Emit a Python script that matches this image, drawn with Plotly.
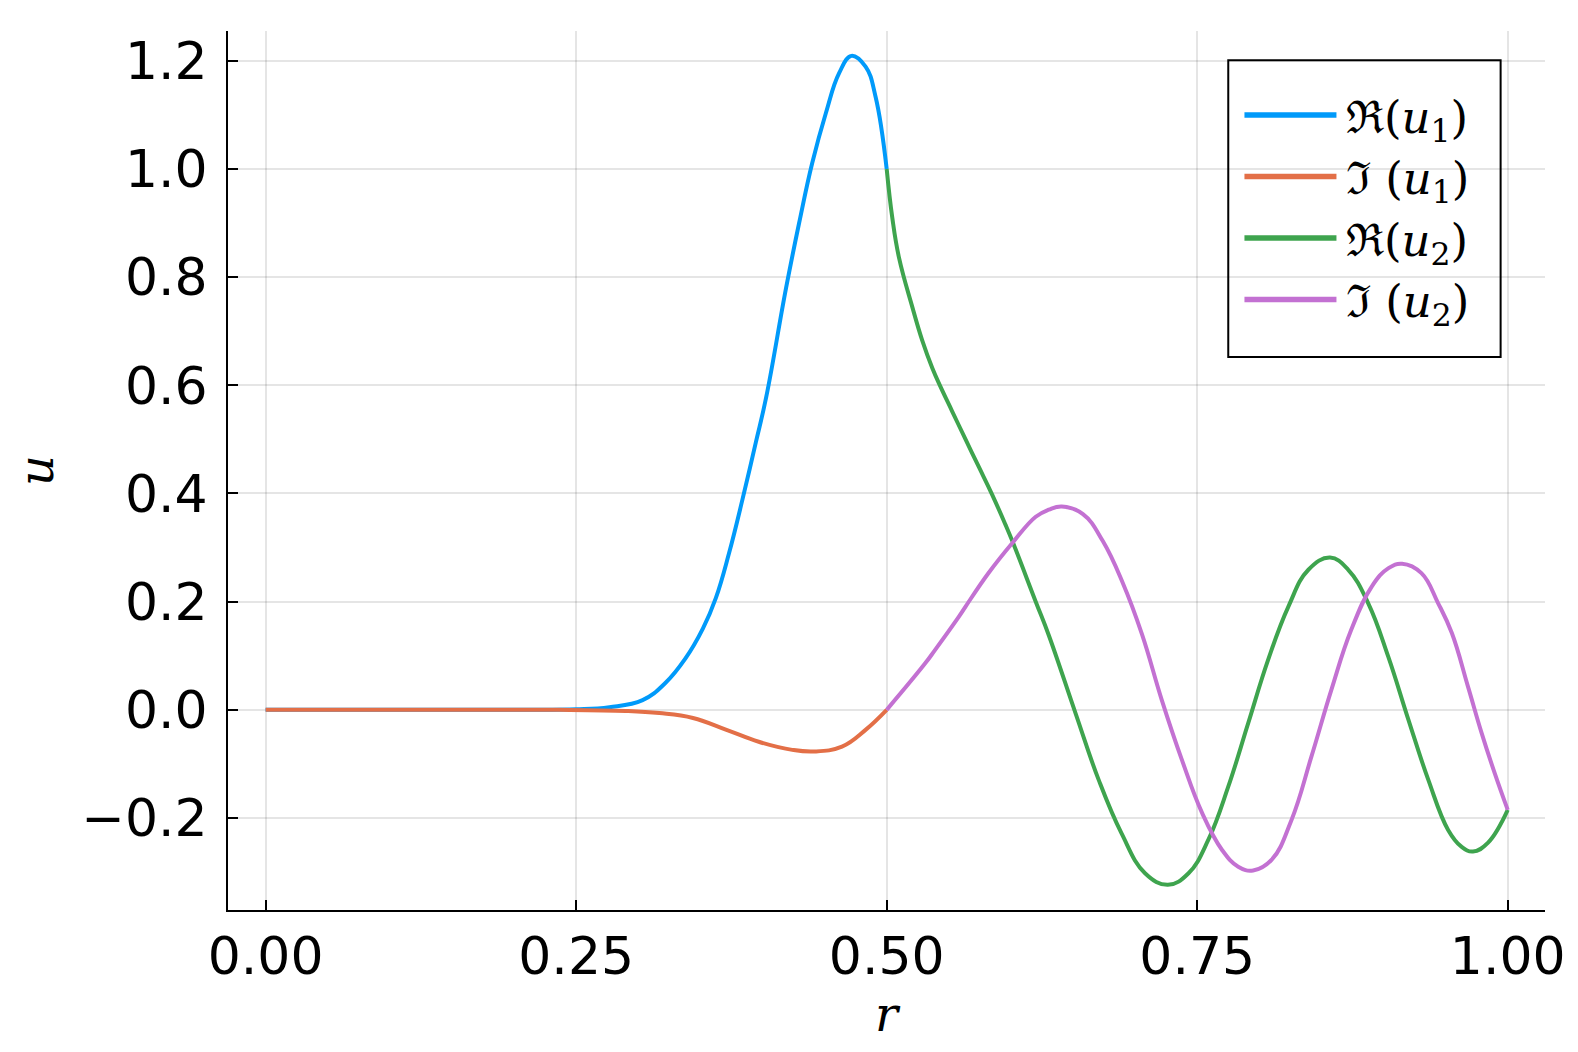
import plotly.graph_objects as go

# Re(u1) and Im(u1) on the inner part, 0 <= r <= 0.5
r_re1 = [0.0, 0.05, 0.1, 0.15, 0.2, 0.25, 0.2768, 0.3035, 0.322, 0.338, 0.352, 0.3625,
         0.373, 0.384, 0.3947, 0.403, 0.419, 0.4295, 0.44, 0.451, 0.4617, 0.4716,
         0.483, 0.491, 0.5]
re_u1 = [0.0, 0.0, 0.0, 0.0, 0.0002, 0.001, 0.005, 0.018, 0.05, 0.095, 0.15, 0.207,
         0.289, 0.39, 0.495, 0.578, 0.78, 0.9, 1.0105, 1.103, 1.177, 1.209,
         1.189, 1.134, 1.0]

r_im1 = [0.0, 0.1, 0.2, 0.236, 0.29, 0.317, 0.344, 0.371, 0.397, 0.424, 0.4416, 0.464,
         0.483, 0.5]
im_u1 = [0.0, 0.0, 0.0, 0.0, -0.002, -0.006, -0.015, -0.037, -0.059, -0.074, -0.077,
         -0.068, -0.037, 0.0]

# Re(u2) and Im(u2) on the outer part, 0.5 <= r <= 1
r_re2 = [0.5, 0.5045, 0.51, 0.5206, 0.5286, 0.5367, 0.5434, 0.5527, 0.5635, 0.5742,
         0.5849, 0.5957, 0.601, 0.62, 0.6305, 0.652, 0.6706, 0.689, 0.708, 0.7264, 0.743,
         0.759, 0.775, 0.791, 0.807, 0.8234, 0.8395, 0.857, 0.8716, 0.8877, 0.9038, 0.92,
         0.936, 0.952, 0.9627, 0.972, 0.984, 1.0]
re_u2 = [1.0, 0.91, 0.835, 0.745, 0.683, 0.632, 0.597, 0.552, 0.5, 0.449,
         0.398, 0.342, 0.313, 0.2, 0.138, -0.006, -0.129, -0.228, -0.302, -0.3235, -0.302,
         -0.24, -0.142, -0.025, 0.092, 0.191, 0.259, 0.2815, 0.259, 0.197, 0.0985, -0.018,
         -0.129, -0.222, -0.253, -0.262, -0.246, -0.185]

r_im2 = [0.5, 0.531, 0.539, 0.558, 0.5635, 0.582, 0.601, 0.62, 0.6305, 0.641, 0.658,
         0.674, 0.69, 0.7055, 0.7215, 0.7376, 0.754, 0.77, 0.783, 0.795, 0.81, 0.826,
         0.842, 0.858, 0.874, 0.8905, 0.904, 0.915, 0.9305, 0.944, 0.955, 0.968, 0.979,
         0.9895, 1.0]
im_u2 = [0.0, 0.086, 0.111, 0.172, 0.191, 0.253, 0.308, 0.357, 0.37, 0.376, 0.362,
         0.312, 0.235, 0.14, 0.018, -0.092, -0.191, -0.259, -0.29, -0.297, -0.277, -0.203,
         -0.086, 0.037, 0.148, 0.228, 0.262, 0.27, 0.2527, 0.197, 0.142, 0.043, -0.043,
         -0.117, -0.185]

x_ticks = [0.0, 0.25, 0.5, 0.75, 1.0]
y_ticks = [-0.2, 0.0, 0.2, 0.4, 0.6, 0.8, 1.0, 1.2]

series = [
    (r_re1, re_u1, "\u200a\u211c(<i>u</i><sub>1</sub>)", "#009AFA"),
    (r_im1, im_u1, "\u200a\u2111 (<i>u</i><sub>1</sub>)", "#E36F47"),
    (r_re2, re_u2, "\u200a\u211c(<i>u</i><sub>2</sub>)", "#3EA44E"),
    (r_im2, im_u2, "\u200a\u2111 (<i>u</i><sub>2</sub>)", "#C371D2"),
]

fig = go.Figure()
for xs, ys, name, col in series:
    fig.add_trace(go.Scatter(x=xs, y=ys, mode="lines", showlegend=False,
                             line=dict(color=col, width=4, shape="spline", smoothing=1.2)))
# legend entries (thicker sample lines, as in the original)
for xs, ys, name, col in series:
    fig.add_trace(go.Scatter(x=[None], y=[None], name=name, mode="lines",
                             line=dict(color=col, width=5.5)))

axis_common = dict(showline=True, linecolor="black", linewidth=2, mirror=False,
                   ticks="inside", ticklen=10, tickwidth=1.5, tickcolor="black",
                   showgrid=True, gridcolor="rgba(0,0,0,0.1)", gridwidth=1.5,
                   zeroline=False,
                   tickfont=dict(family="DejaVu Sans", size=52, color="black"))

fig.update_xaxes(range=[-0.0303, 1.03], tickvals=x_ticks, tickformat=".2f",
                 title=dict(text="<i>r</i>",
                            font=dict(family="DejaVu Serif", size=48, color="black"),
                            standoff=12),
                 **axis_common)
fig.update_yaxes(range=[-0.37, 1.255], tickvals=y_ticks, tickformat=".1f",
                 ticklabelstandoff=8,
                 title=dict(text="<i>u</i>",
                            font=dict(family="DejaVu Serif", size=48, color="black"),
                            standoff=22),
                 **axis_common)

# legend frame
fig.add_shape(type="rect", xref="paper", yref="paper",
              x0=0.7595, x1=0.9663, y0=0.6291, y1=0.9666,
              line=dict(color="black", width=2), fillcolor="white", layer="below")

fig.update_layout(
    width=1570, height=1044,
    margin=dict(l=220, r=31, t=23, b=142),
    plot_bgcolor="white", paper_bgcolor="white",
    legend=dict(x=0.768, y=0.7995, xanchor="left", yanchor="middle",
                borderwidth=0, bgcolor="rgba(0,0,0,0)",
                font=dict(family="DejaVu Serif", size=45, color="black"),
                tracegroupgap=0, itemwidth=92),
)

fig.write_html("out.html")
